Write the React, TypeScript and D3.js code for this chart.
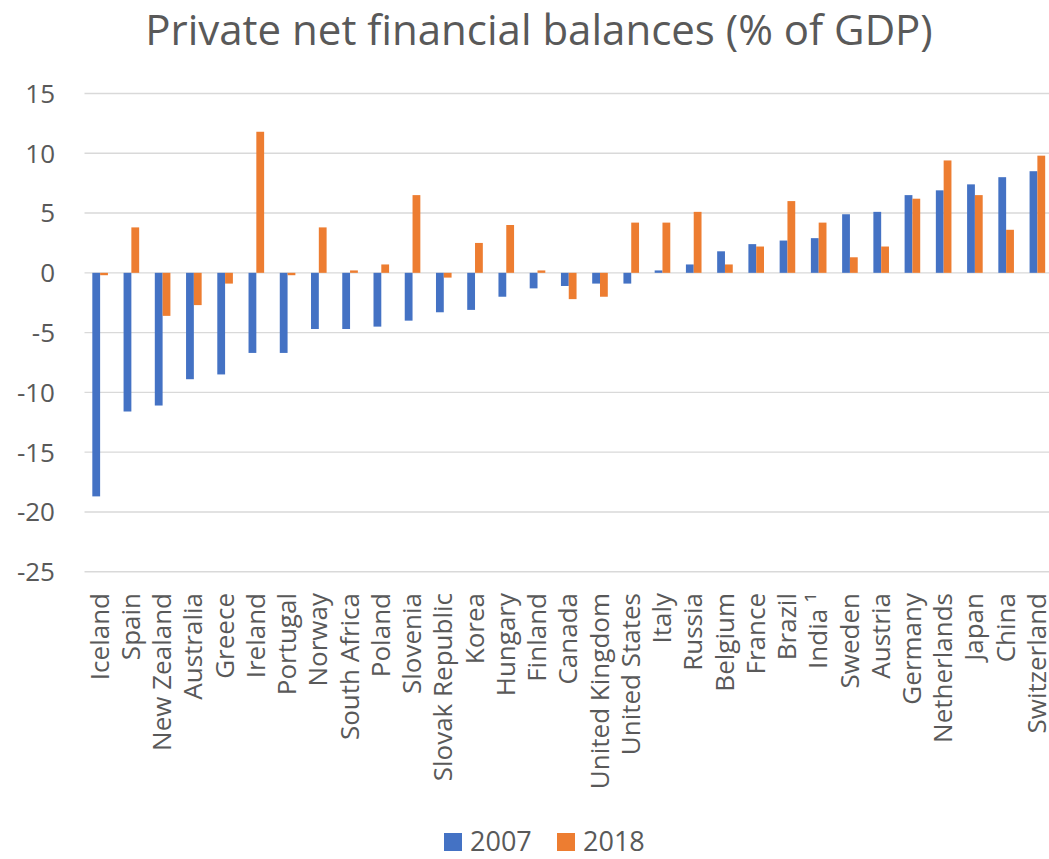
import React from "react";
import * as d3 from "d3";

const categories = [
  "Iceland", "Spain", "New Zealand", "Australia", "Greece", "Ireland", "Portugal", "Norway",
  "South Africa", "Poland", "Slovenia", "Slovak Republic", "Korea", "Hungary", "Finland", "Canada",
  "United Kingdom", "United States", "Italy", "Russia", "Belgium", "France", "Brazil", "India \u00B9",
  "Sweden", "Austria", "Germany", "Netherlands", "Japan", "China", "Switzerland",
];
const values2007 = [
  -18.7, -11.6, -11.1, -8.9, -8.5, -6.7, -6.7, -4.7,
  -4.7, -4.5, -4.0, -3.3, -3.1, -2.0, -1.3, -1.1,
  -0.9, -0.9, 0.2, 0.7, 1.8, 2.4, 2.7, 2.9,
  4.9, 5.1, 6.5, 6.9, 7.4, 8.0, 8.5,
];
const values2018 = [
  -0.2, 3.8, -3.6, -2.7, -0.9, 11.8, -0.2, 3.8,
  0.2, 0.7, 6.5, -0.4, 2.5, 4.0, 0.2, -2.2,
  -2.0, 4.2, 4.2, 5.1, 0.7, 2.2, 6.0, 4.2,
  1.3, 2.2, 6.2, 9.4, 6.5, 3.6, 9.8,
];
const yTicks = [15, 10, 5, 0, -5, -10, -15, -20, -25];
const seriesNames = ["2007", "2018"];
const seriesColors = ["#4472C4", "#ED7D31"];

const W = 1049;
const H = 859;
const plotLeft = 84.5;
const plotRight = 1053;
const textColor = "#595959";
const font = "'Open Sans', sans-serif";

export default function App() {
  const x = d3.scaleBand<string>().domain(categories).range([plotLeft, plotRight]).paddingInner(0).paddingOuter(0);
  const y = d3.scaleLinear().domain([-25, 15]).range([571.7, 93.5]);
  const barW = 7.8;
  const series = [values2007, values2018];

  return (
    <svg width={W} height={H} style={{ position: "absolute", left: 0, top: 0, background: "#fff" }}>
      <rect x={0} y={0} width={W} height={H} fill="#fff" />
      <text x={539} y={44.5} textAnchor="middle" fill={textColor} fontFamily={font} fontSize={42}>
        Private net financial balances (% of GDP)
      </text>
      {yTicks.map((t) => (
        <g key={t}>
          <line x1={plotLeft} x2={W} y1={y(t)} y2={y(t)} stroke="#D9D9D9" strokeWidth={1.4} />
          <text x={55} y={y(t)} dy="0.36em" textAnchor="end" fill={textColor} fontFamily={font} fontSize={26}>
            {t}
          </text>
        </g>
      ))}
      {categories.map((c, i) => {
        const cx = (x(c) as number) + x.bandwidth() / 2;
        return (
          <g key={c}>
            {series.map((vals, s) => {
              const v = vals[i];
              const bx = cx - barW + s * barW;
              return (
                <rect
                  key={s}
                  x={bx}
                  width={barW}
                  y={Math.min(y(v), y(0))}
                  height={Math.abs(y(v) - y(0))}
                  fill={seriesColors[s]}
                />
              );
            })}
            <text
              transform={`translate(${cx},593) rotate(-90)`}
              dy="0.33em"
              textAnchor="end"
              fill={textColor}
              fontFamily={font}
              fontSize={26}
            >
              {c}
            </text>
          </g>
        );
      })}
      {seriesNames.map((n, s) => {
        const lx = 444 + s * 113;
        return (
          <g key={n}>
            <rect x={lx} y={833} width={18} height={18} fill={seriesColors[s]} />
            <text x={lx + 26} y={851} fill={textColor} fontFamily={font} fontSize={27}>
              {n}
            </text>
          </g>
        );
      })}
    </svg>
  );
}
